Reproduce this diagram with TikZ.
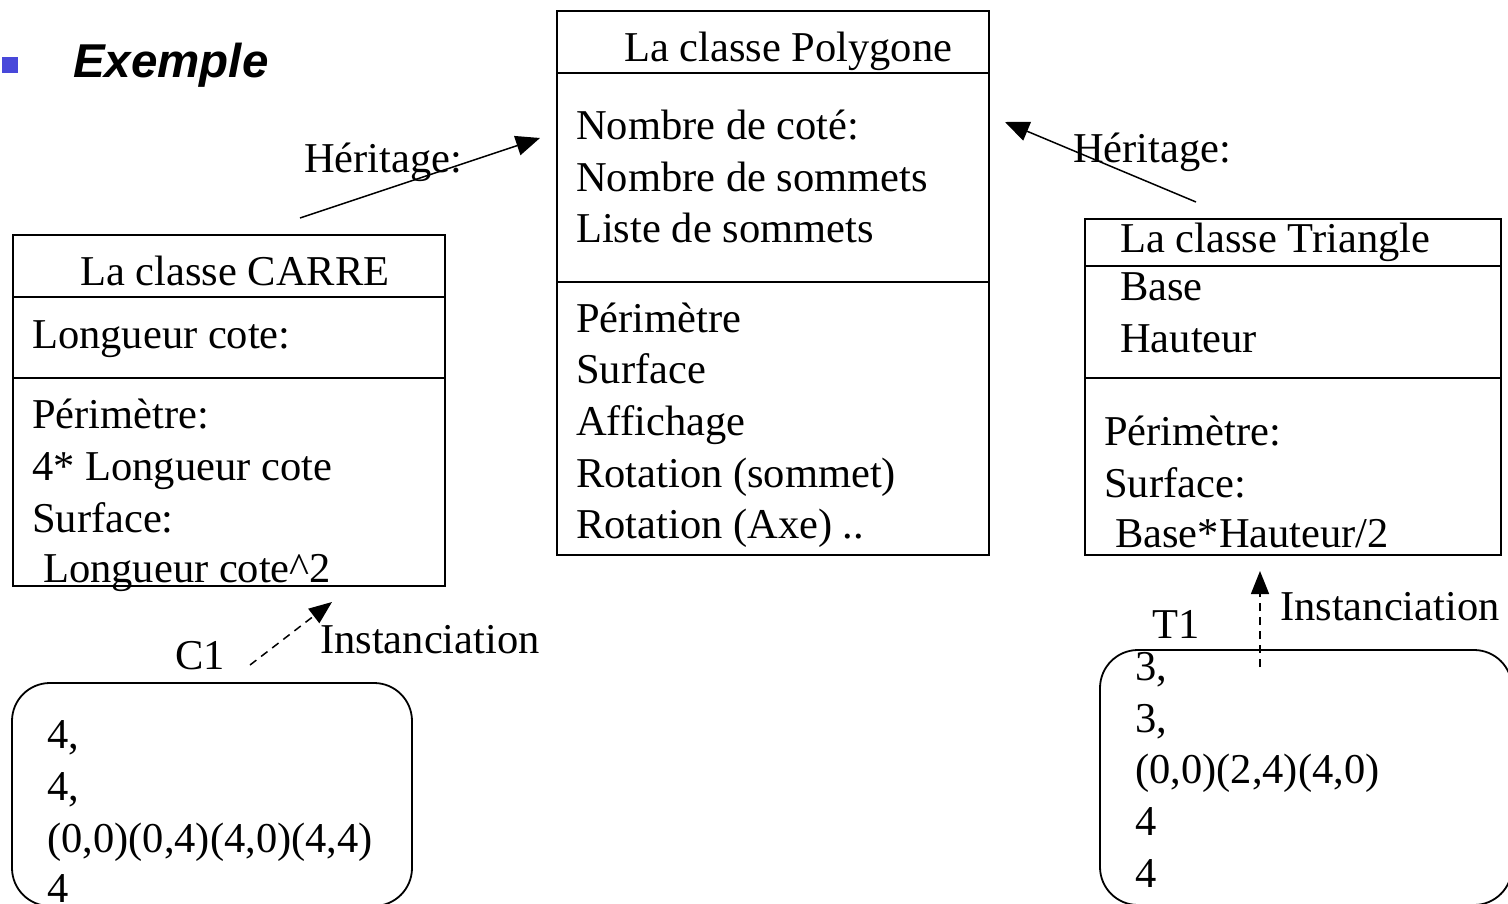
\documentclass[tikz,border=0pt]{standalone}
\usepackage{fontspec}
\setmainfont{Liberation Serif}
\newfontfamily\headfont{Liberation Sans}
\usetikzlibrary{arrows.meta}
\definecolor{bulletblue}{RGB}{72,72,218}
\tikzset{
  frame/.style={draw, line width=1.8pt, rectangle, inner sep=0pt, anchor=north west},
  rowline/.style={line width=1.8pt},
  objbox/.style={draw, line width=1.8pt, rounded corners=38pt},
  txt/.style={anchor=base west, inner sep=0pt, font=\fontsize{42.5}{51}\selectfont},
  inherit/.style={line width=1.5pt, -{Triangle[length=24pt,width=20pt]}},
  instance/.style={line width=1.5pt, dash pattern=on 8pt off 6pt, -{Triangle[length=23pt,width=18pt]}}
}
\begin{document}
\begin{tikzpicture}[x=1pt,y=-1pt]
\useasboundingbox (0,0) rectangle (1508,904);
\clip (0,0) rectangle (1508,904);
\fill[white] (0,0) rectangle (1508,904);

% heading
\node[fill=bulletblue, minimum size=16pt, inner sep=0pt, anchor=north west] (bullet) at (2,57) {};
\node[anchor=base west, inner sep=0pt, font=\headfont\bfseries\itshape\fontsize{47.5}{50}\selectfont] (title) at (73,78) {Exemple};

% class Polygone
\node[frame, minimum width=432pt, minimum height=544pt] (poly) at (556,10) {};
\draw[rowline] (556,73) -- (988,73);
\draw[rowline] (556,282) -- (988,282);
\node[txt] (polyname) at (624,62) {La classe Polygone};
\node[txt] (pa1) at (576,140) {Nombre de coté:};
\node[txt] (pa2) at (576,192) {Nombre de sommets};
\node[txt] (pa3) at (576,243) {Liste de sommets};
\node[txt] (pm1) at (576,332) {Périmètre};
\node[txt] (pm2) at (576,383) {Surface};
\node[txt] (pm3) at (576,435) {Affichage};
\node[txt] (pm4) at (576,487) {Rotation (sommet)};
\node[txt] (pm5) at (576,538) {Rotation (Axe) ..};

% class CARRE
\node[frame, minimum width=432pt, minimum height=351pt] (carre) at (12,234) {};
\draw[rowline] (12,297) -- (444,297);
\draw[rowline] (12,378) -- (444,378);
\node[txt] (carrename) at (80,285) {La classe CARRE};
\node[txt] (ca1) at (32,348) {Longueur cote:};
\node[txt] (cm1) at (32,428) {Périmètre:};
\node[txt] (cm2) at (32,480) {4* Longueur cote};
\node[txt] (cm3) at (32,532) {Surface:};
\node[txt] (cm4) at (43,582) {Longueur cote\^{}2};

% class Triangle
\node[frame, minimum width=416pt, minimum height=336pt] (tri) at (1084,218) {};
\draw[rowline] (1084,266) -- (1500,266);
\draw[rowline] (1084,378) -- (1500,378);
\node[txt] (triname) at (1120,253) {La classe Triangle};
\node[txt] (ta1) at (1120,300) {Base};
\node[txt] (ta2) at (1120,352) {Hauteur};
\node[txt] (tm1) at (1104,445) {Périmètre:};
\node[txt] (tm2) at (1104,497) {Surface:};
\node[txt] (tm3) at (1115,547) {Base*Hauteur/2};

% object C1
\draw[objbox] (12,683) rectangle (412,906);
\node[txt] (c1name) at (175,669) {C1};
\node[txt] (c1v1) at (47,748) {4,};
\node[txt] (c1v2) at (47,800) {4,};
\node[txt] (c1v3) at (47,852) {(0,0)(0,4)(4,0)(4,4)};
\node[txt] (c1v4) at (47,902) {4};

% object T1
\draw[objbox] (1100,650) rectangle (1512,905);
\node[txt] (t1name) at (1152,638) {T1};
\node[txt] (t1v1) at (1135,680) {3,};
\node[txt] (t1v2) at (1135,732) {3,};
\node[txt] (t1v3) at (1135,783) {(0,0)(2,4)(4,0)};
\node[txt] (t1v4) at (1135,835) {4};
\node[txt] (t1v5) at (1135,887) {4};

% inheritance arrows
\node[txt] (herl) at (304,173) {Héritage:};
\node[txt] (herr) at (1073,163) {Héritage:};
\coordinate (carreTail) at (300,218);
\coordinate (polyLeft) at (540,138);
\coordinate (triTail) at (1196,202);
\coordinate (polyRight) at (1005,122);
\draw[inherit] (carreTail) -- (polyLeft);
\draw[inherit] (triTail) -- (polyRight);

% instanciation arrows
\node[txt] (instl) at (320,653) {Instanciation};
\node[txt] (instr) at (1280,620) {Instanciation};
\coordinate (c1Tail) at (250,665);
\coordinate (carreBottom) at (332,602);
\coordinate (t1Tail) at (1260,667);
\coordinate (triBottom) at (1260,571);
\draw[instance] (c1Tail) -- (carreBottom);
\draw[instance] (t1Tail) -- (triBottom);
\end{tikzpicture}
\end{document}
